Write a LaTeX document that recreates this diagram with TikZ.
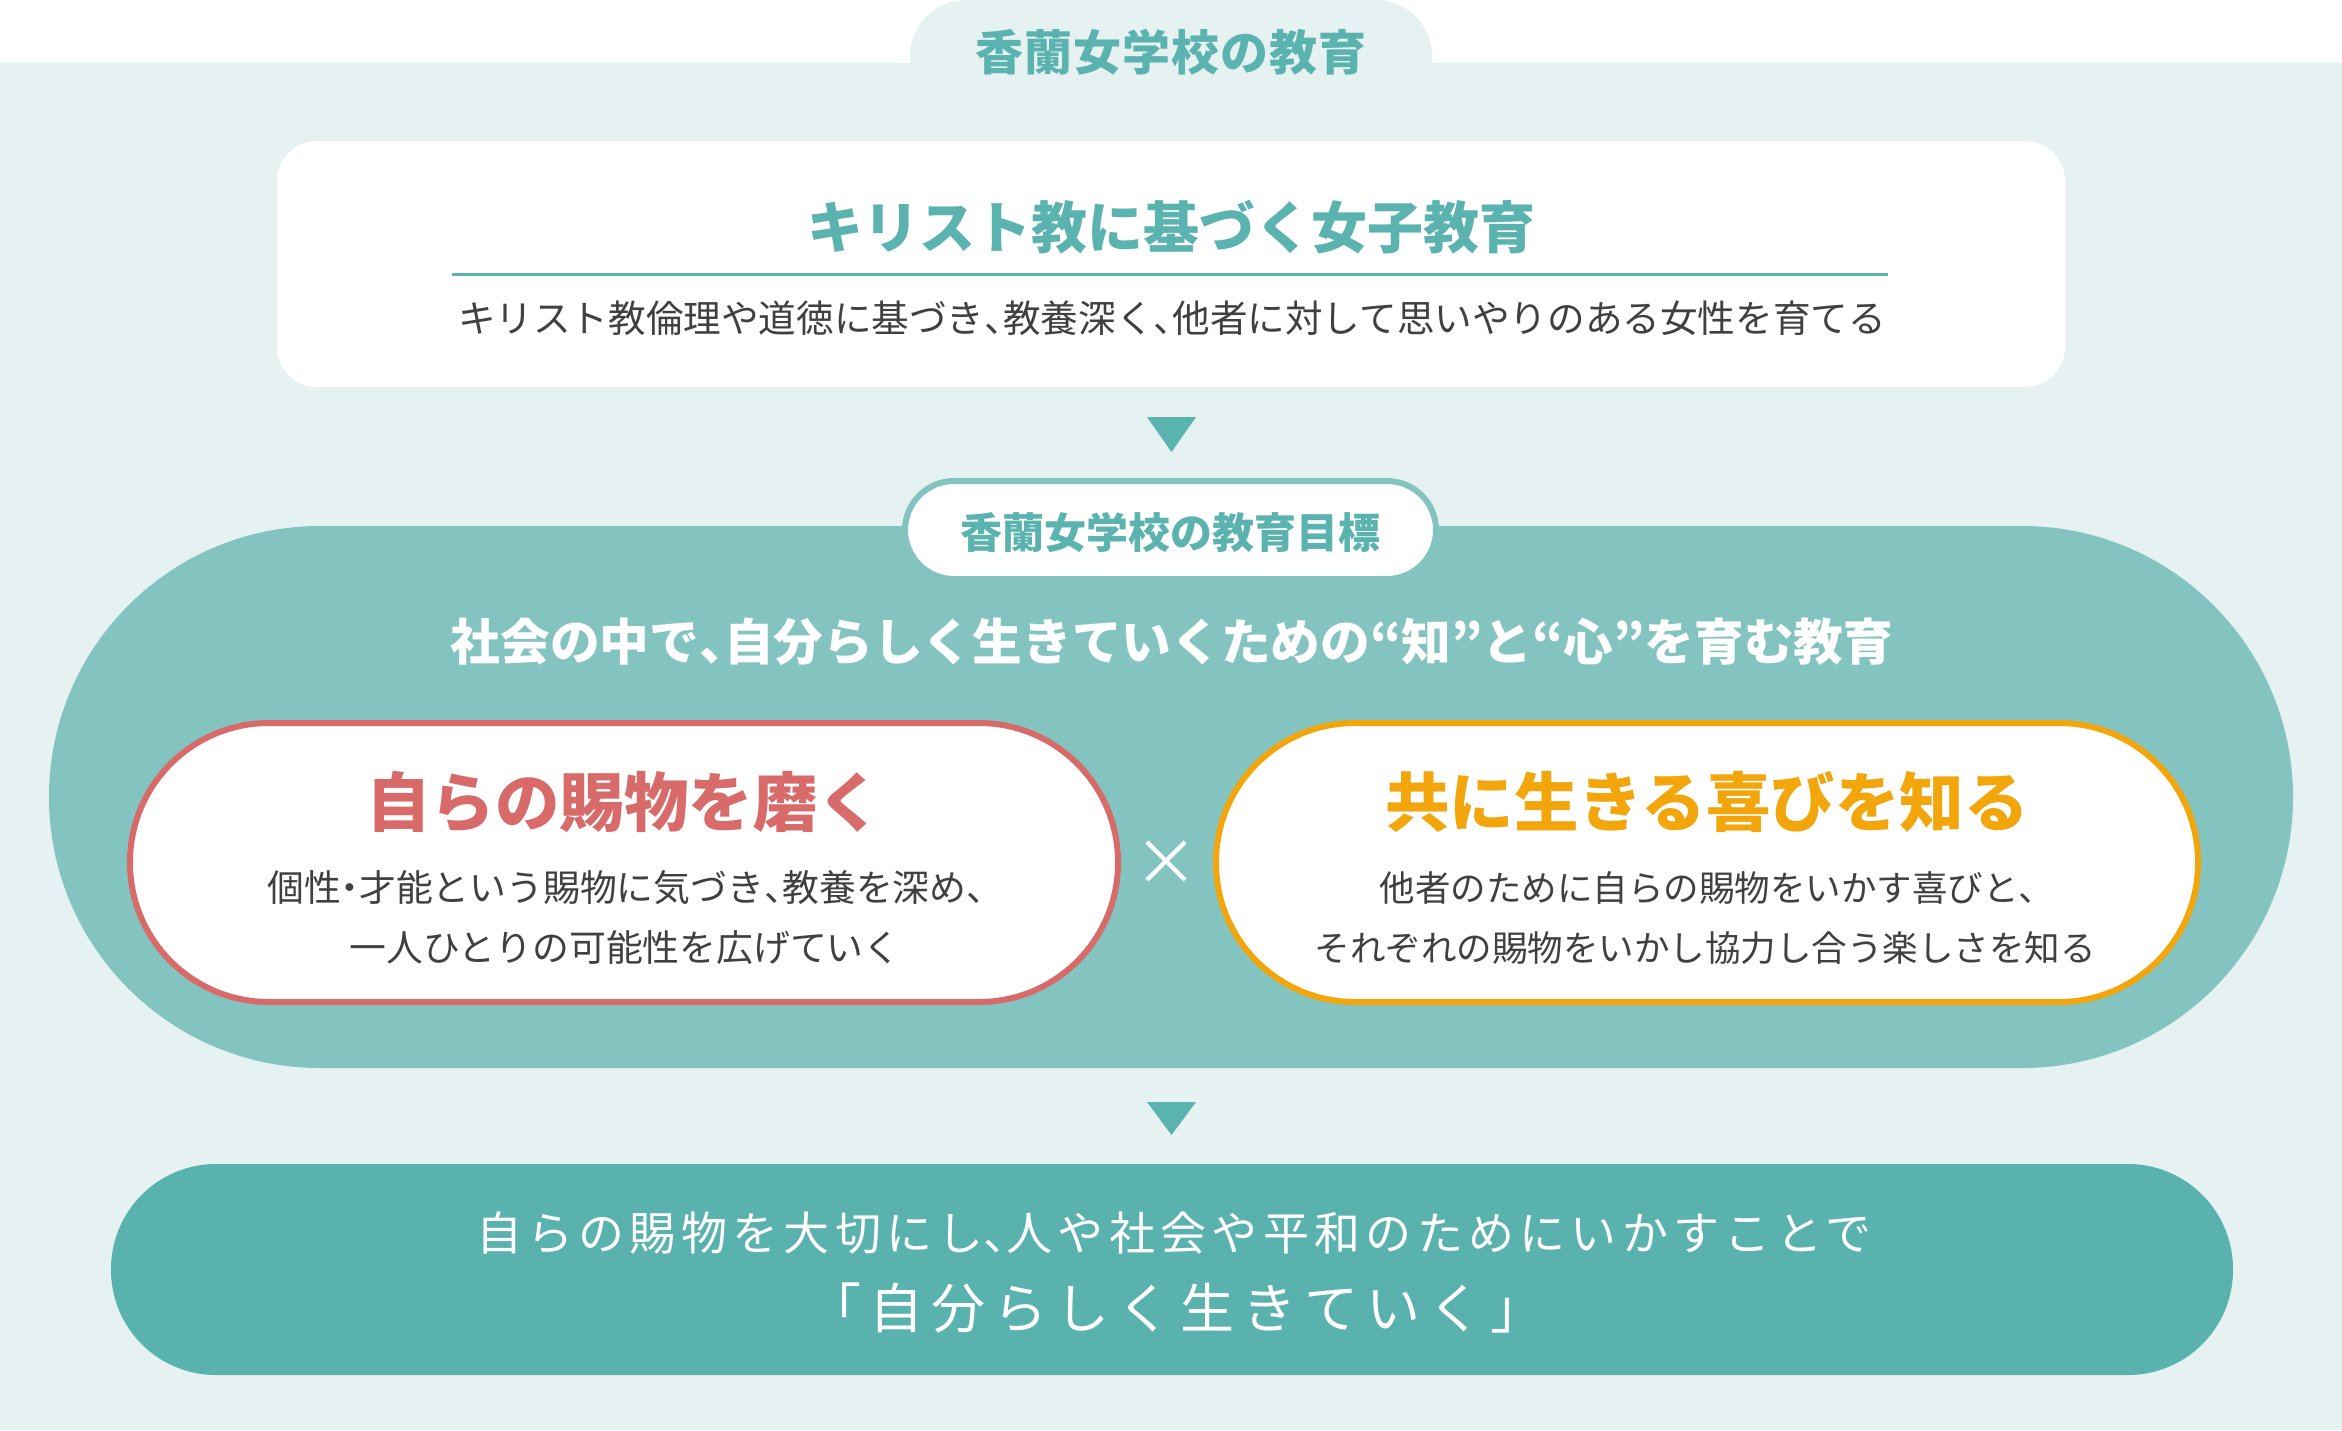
\documentclass[tikz,border=0pt]{standalone}
\usepackage{fontspec}
\newfontfamily\jp{Noto Sans CJK JP}
\newcommand\hw[1]{{\addfontfeature{RawFeature=+halt}#1}}
\definecolor{bgl}{HTML}{E6F2F2}
\definecolor{tealt}{HTML}{5BB3AF}
\definecolor{bandc}{HTML}{84C4C0}
\definecolor{pillb}{HTML}{5AB2AE}
\definecolor{redc}{HTML}{D96A6A}
\definecolor{orc}{HTML}{F3A50C}
\definecolor{txt}{HTML}{404040}
\tikzset{
  base/.style={inner sep=0pt, outer sep=0pt},
  tabtext/.style={base, text=tealt, font=\jp\bfseries\fontsize{48}{56}\selectfont\addfontfeature{LetterSpace=2}},
  boxtitle/.style={base, text=tealt, font=\jp\bfseries\fontsize{56}{64}\selectfont},
  bodytext/.style={base, text=txt, font=\jp\fontsize{36.8}{44}\selectfont},
  bodytextr/.style={base, text=txt, font=\jp\fontsize{35.5}{44}\selectfont},
  pilltitle/.style={base, font=\jp\bfseries\fontsize{64.5}{72}\selectfont},
  headtext/.style={base, text=white, font=\jp\bfseries\fontsize{49.7}{58}\selectfont},
  goaltab/.style={base, fill=white, draw=bandc, line width=6pt, rounded corners=49, minimum width=531, minimum height=98},
  pill/.style={base, fill=white, line width=6pt, rounded corners=139, minimum height=279},
  arrowtri/.style={fill=tealt},
}
\begin{document}
\begin{tikzpicture}[x=1pt,y=-1pt]
\useasboundingbox (0,0) rectangle (2342,1430);
\fill[white] (0,0) rectangle (2342,1430);
\fill[bgl] (0,63) rectangle (2342,1430);
% top tab
\fill[bgl, rounded corners=56] (910,200) -- (910,0) -- (1432,0) -- (1432,200) -- cycle;
\node[tabtext] (tabA) at (1171,52) {香蘭女学校の教育};
% box 1
\node[base, fill=white, rounded corners=40, minimum width=1788, minimum height=246] (box1) at (1171,264) {};
\node[boxtitle] (t1) at (1171,227) {キリスト教に基づく女子教育};
\coordinate (l1) at (452,274);
\coordinate (l2) at (1888,274);
\draw[tealt, line width=3pt] (l1) -- (l2);
\node[base, text=txt, font=\jp\fontsize{37.6}{44}\selectfont] (s1) at (1172,318) {キリスト教倫理や道徳に基づき\hw{、}教養深く\hw{、}他者に対して思いやりのある女性を育てる};
% triangle 1
\fill[arrowtri] (1147,417) -- (1196,417) -- (1171.5,452) -- cycle;
% band
\node[base, fill=bandc, rounded corners=271, minimum width=2244, minimum height=542] (band) at (1171,797) {};
\node[goaltab] (tabB) at (1170.5,530) {};
\node[base, text=tealt, font=\jp\bfseries\fontsize{42}{50}\selectfont] (tabBt) at (1170.5,533) {香蘭女学校の教育目標};
\node[headtext] (head) at (1172,642) {社会の中で\hw{、}自分らしく生きていくための“知”と“心”を育む教育};
% pills
\node[pill, draw=redc, minimum width=988] (pl) at (624,862.5) {};
\node[pilltitle, text=redc] (plt) at (624,802) {自らの賜物を磨く};
\node[bodytext] (pl1) at (626,888) {個性\hw{・}才能という賜物に気づき\hw{、}教養を深め\hw{、}};
\node[bodytext] (pl2) at (625,948) {一人ひとりの可能性を広げていく};
\node[pill, draw=orc, minimum width=982] (pr) at (1707,862.5) {};
\node[pilltitle, text=orc] (prt) at (1707,802) {共に生きる喜びを知る};
\node[bodytextr] (pr1) at (1708,888) {他者のために自らの賜物をいかす喜びと\hw{、}};
\node[bodytextr] (pr2) at (1705,948) {それぞれの賜物をいかし協力し合う楽しさを知る};
\node[base, text=white, font=\jp\fontsize{64}{70}\selectfont] (times) at (1166,863) {×};
% triangle 2
\fill[arrowtri] (1147,1102) -- (1196,1102) -- (1171.5,1135) -- cycle;
% bottom pill
\node[base, fill=pillb, rounded corners=105, minimum width=2122, minimum height=211] (bot) at (1172,1269.5) {};
\node[base, text=white, font=\jp\fontsize{46}{52}\selectfont\addfontfeature{LetterSpace=11.5}] (b1) at (1174,1233) {自らの賜物を大切にし\hw{、}人や社会や平和のためにいかすことで};
\node[base, text=white, font=\jp\fontsize{54}{60}\selectfont\addfontfeature{LetterSpace=15}] (b2) at (1176,1308) {「自分らしく生きていく」};
\end{tikzpicture}
\end{document}
